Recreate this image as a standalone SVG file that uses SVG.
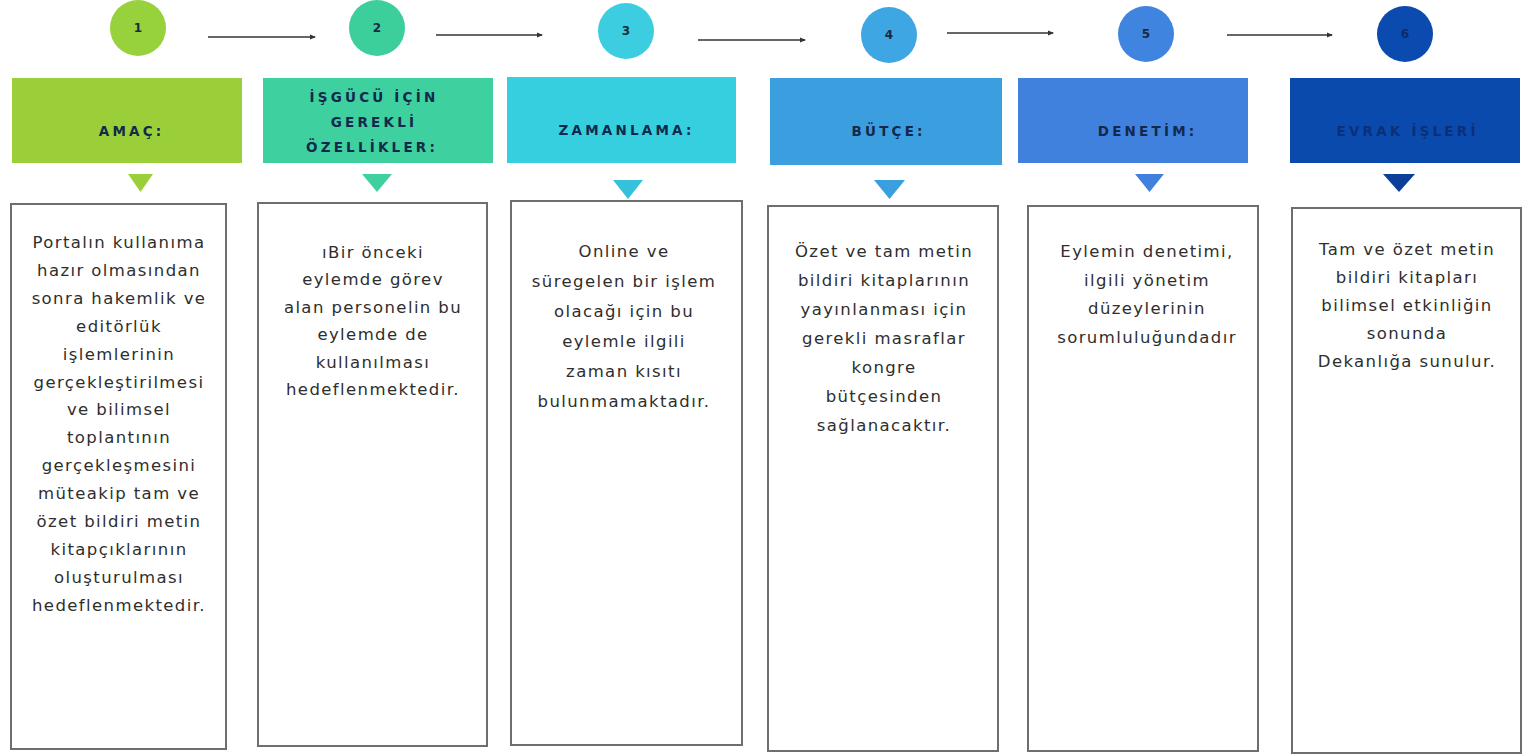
<svg xmlns="http://www.w3.org/2000/svg" width="1524" height="755" viewBox="0 0 1524 755">
<defs>
<marker id="ah" markerWidth="6" markerHeight="6" refX="5" refY="3" orient="auto" markerUnits="userSpaceOnUse">
<path d="M0,0.5 L6,3 L0,5.5 Z" fill="#333"/>
</marker>
<style>
.num{font-family:"DejaVu Sans",sans-serif;font-weight:bold;font-size:12px;fill:#1b2a3f;text-anchor:middle}
.hd{font-family:"DejaVu Sans",sans-serif;font-weight:bold;font-size:13.5px;fill:#13294b;text-anchor:middle;letter-spacing:3.2px}
.bx{fill:#fff;stroke:#6e6e6e;stroke-width:2}
.tx{font-family:"DejaVu Sans",sans-serif;font-size:16.5px;fill:#2e2e2e;text-anchor:middle;letter-spacing:1.4px}
.conn{stroke:#333;stroke-width:1.6;fill:none}
</style>
</defs>
<rect width="1524" height="755" fill="#fff"/>
<g id="connectors">
<line class="conn" x1="208" y1="37" x2="315" y2="37" marker-end="url(#ah)"/>
<line class="conn" x1="436" y1="35" x2="542" y2="35" marker-end="url(#ah)"/>
<line class="conn" x1="698" y1="40" x2="805" y2="40" marker-end="url(#ah)"/>
<line class="conn" x1="947" y1="33" x2="1053" y2="33" marker-end="url(#ah)"/>
<line class="conn" x1="1227" y1="35" x2="1332" y2="35" marker-end="url(#ah)"/>
</g>
<g id="step1">
<circle cx="138" cy="28" r="28" fill="#97d13c"/>
<text class="num" x="138" y="32">1</text>
<rect x="12" y="78" width="230" height="85" fill="#9bcf3a"/>
<text class="hd" x="131.6" y="136">AMAÇ:</text>
<polygon points="128,174 153,174 140.5,192" fill="#9bcf3a"/>
<rect class="bx" x="11" y="204" width="215" height="545"/>
<text class="tx" y="248"><tspan x="119">Portalın kullanıma</tspan><tspan x="119" dy="27.9">hazır olmasından</tspan><tspan x="119" dy="27.9">sonra hakemlik ve</tspan><tspan x="119" dy="27.9">editörlük</tspan><tspan x="119" dy="27.9">işlemlerinin</tspan><tspan x="119" dy="27.9">gerçekleştirilmesi</tspan><tspan x="119" dy="27.9">ve bilimsel</tspan><tspan x="119" dy="27.9">toplantının</tspan><tspan x="119" dy="27.9">gerçekleşmesini</tspan><tspan x="119" dy="27.9">müteakip tam ve</tspan><tspan x="119" dy="27.9">özet bildiri metin</tspan><tspan x="119" dy="27.9">kitapçıklarının</tspan><tspan x="119" dy="27.9">oluşturulması</tspan><tspan x="119" dy="27.9">hedeflenmektedir.</tspan></text>
</g>
<g id="step2">
<circle cx="377" cy="28" r="28" fill="#3ccf9c"/>
<text class="num" x="377" y="32">2</text>
<rect x="263" y="78" width="230" height="85" fill="#3fd0a0"/>
<text class="hd"><tspan x="374" y="102">İŞGÜCÜ İÇİN</tspan><tspan x="374" y="127">GEREKLİ</tspan><tspan x="372" y="152">ÖZELLİKLER:</tspan></text>
<polygon points="362,174 392,174 377,192" fill="#3fd0a0"/>
<rect class="bx" x="258" y="203" width="229" height="543"/>
<text class="tx" y="258"><tspan x="373">ıBir önceki</tspan><tspan x="373" dy="27.4">eylemde görev</tspan><tspan x="373" dy="27.4">alan personelin bu</tspan><tspan x="373" dy="27.4">eylemde de</tspan><tspan x="373" dy="27.4">kullanılması</tspan><tspan x="373" dy="27.4">hedeflenmektedir.</tspan></text>
</g>
<g id="step3">
<circle cx="626" cy="31" r="28" fill="#3ccde0"/>
<text class="num" x="626" y="35">3</text>
<rect x="507" y="77" width="229" height="86" fill="#35cfe0"/>
<text class="hd" x="626.6" y="135">ZAMANLAMA:</text>
<polygon points="613,180 643,180 628,199" fill="#35c0dc"/>
<rect class="bx" x="511" y="201" width="231" height="544"/>
<text class="tx" y="257"><tspan x="624">Online ve</tspan><tspan x="624" dy="30">süregelen bir işlem</tspan><tspan x="624" dy="30">olacağı için bu</tspan><tspan x="624" dy="30">eylemle ilgili</tspan><tspan x="624" dy="30">zaman kısıtı</tspan><tspan x="624" dy="30">bulunmamaktadır.</tspan></text>
</g>
<g id="step4">
<circle cx="889" cy="35" r="28" fill="#3ea6e3"/>
<text class="num" x="889" y="39">4</text>
<rect x="770" y="78" width="232" height="87" fill="#3b9fdf"/>
<text class="hd" x="888.6" y="136">BÜTÇE:</text>
<polygon points="874,180 905,180 889.5,199" fill="#3b9fdf"/>
<rect class="bx" x="768" y="206" width="230" height="545"/>
<text class="tx" y="257"><tspan x="884">Özet ve tam metin</tspan><tspan x="884" dy="29">bildiri kitaplarının</tspan><tspan x="884" dy="29">yayınlanması için</tspan><tspan x="884" dy="29">gerekli masraflar</tspan><tspan x="884" dy="29">kongre</tspan><tspan x="884" dy="29">bütçesinden</tspan><tspan x="884" dy="29">sağlanacaktır.</tspan></text>
</g>
<g id="step5">
<circle cx="1146" cy="34" r="28" fill="#3f84df"/>
<text class="num" x="1146" y="38">5</text>
<rect x="1018" y="78" width="230" height="85" fill="#4181de"/>
<text class="hd" x="1147.6" y="136">DENETİM:</text>
<polygon points="1135,174 1164,174 1149.5,192" fill="#4181de"/>
<rect class="bx" x="1028" y="206" width="230" height="545"/>
<text class="tx" y="257"><tspan x="1147">Eylemin denetimi,</tspan><tspan x="1147" dy="28.7">ilgili yönetim</tspan><tspan x="1147" dy="28.7">düzeylerinin</tspan><tspan x="1147" dy="28.7">sorumluluğundadır</tspan></text>
</g>
<g id="step6">
<circle cx="1405" cy="34" r="28" fill="#0b4aae"/>
<text class="num" x="1405" y="38" style="fill:#0a2d6e">6</text>
<rect x="1290" y="78" width="230" height="85" fill="#0a4aad"/>
<text class="hd" x="1407.6" y="136" style="fill:#0b2f78">EVRAK İŞLERİ</text>
<polygon points="1383,174 1415,174 1399,192" fill="#0b3f9a"/>
<rect class="bx" x="1292" y="208" width="229" height="545"/>
<text class="tx" y="255"><tspan x="1407">Tam ve özet metin</tspan><tspan x="1407" dy="28">bildiri kitapları</tspan><tspan x="1407" dy="28">bilimsel etkinliğin</tspan><tspan x="1407" dy="28">sonunda</tspan><tspan x="1407" dy="28">Dekanlığa sunulur.</tspan></text>
</g>
</svg>
